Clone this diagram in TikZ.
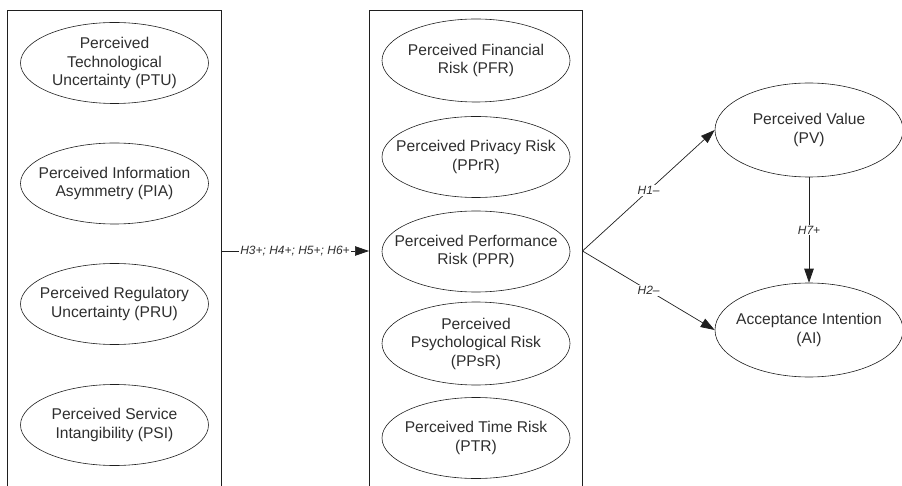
\documentclass[tikz,border=0pt]{standalone}
\usepackage{fontspec}
\setmainfont{Liberation Sans}
\usetikzlibrary{shapes.geometric,arrows.meta}
\begin{document}
\begin{tikzpicture}[x=1pt,y=-1pt,
  line/.style={draw=black!88,line width=0.7pt},
  construct/.style={ellipse,draw=black!88,line width=0.6pt,inner sep=0pt},
  lt/.style={align=center,inner sep=0pt,font=\fontsize{15.6}{18.5}\selectfont,text=black!82},
  lc/.style={construct,minimum width=188pt,minimum height=81pt},
  rc/.style={construct,minimum width=188pt,minimum height=94pt},
  hyp/.style={font=\fontsize{12}{14}\itshape,fill=white,inner sep=1pt,text=black!82},
  tip/.style={-{Triangle[length=14pt,width=9.5pt]}}]
\useasboundingbox (0,0) rectangle (902,486);
% boxes
\coordinate (b1bl) at (7.5,486);
\coordinate (b1tl) at (7.5,10);
\coordinate (b1tr) at (221,10);
\coordinate (b1br) at (221,486);
\coordinate (b2bl) at (369,486);
\coordinate (b2tl) at (369,10);
\coordinate (b2tr) at (582.5,10);
\coordinate (b2br) at (582.5,486);
\draw[line,line width=0.6pt] (b1bl) -- (b1tl) -- (b1tr) -- (b1br);
\draw[line,line width=0.6pt] (b2bl) -- (b2tl) -- (b2tr) -- (b2br);
% left constructs
\node[lc,label={[lt]center:{Perceived\\Technological\\Uncertainty (PTU)}}] (ptu) at (114.5,63) {};
\node[lc,label={[lt]center:{Perceived Information\\Asymmetry (PIA)}}] (pia) at (114.5,183.5) {};
\node[lc,label={[lt]center:{Perceived Regulatory\\Uncertainty (PRU)}}] (pru) at (114.5,304) {};
\node[lc,label={[lt]center:{Perceived Service\\Intangibility (PSI)}}] (psi) at (114.5,425) {};
% middle constructs
\node[lc,minimum height=83pt,label={[lt]center:{Perceived Financial\\Risk (PFR)}}] (pfr) at (476,60.5) {};
\node[lc,label={[lt]center:{Perceived Privacy Risk\\(PPrR)}}] (pprr) at (476,157) {};
\node[lc,label={[lt]center:{Perceived Performance\\Risk (PPR)}}] (ppr) at (476,251.5) {};
\node[lc,minimum height=83pt,label={[lt]center:{Perceived\\Psychological Risk\\(PPsR)}}] (ppsr) at (476,343.5) {};
\node[lc,label={[lt]center:{Perceived Time Risk\\(PTR)}}] (ptr) at (476,438) {};
% right constructs
\node[rc,label={[lt]center:{Perceived Value\\(PV)}}] (pv) at (809,130) {};
\node[rc,label={[lt]center:{Acceptance Intention\\(AI)}}] (ai) at (809,330) {};
% connectors
\coordinate (src) at (221,251);
\coordinate (dst) at (369,251);
\coordinate (br) at (582.5,251);
\draw[line,tip] (src) -- node[hyp] {H3+; H4+; H5+; H6+} (dst);
\draw[line,tip] (br) -- node[hyp] {H1–} (pv.west);
\draw[line,tip] (br) -- node[hyp] {H2–} (ai.west);
\draw[line,tip] (pv.south) -- node[hyp] {H7+} (ai.north);
\end{tikzpicture}
\end{document}
